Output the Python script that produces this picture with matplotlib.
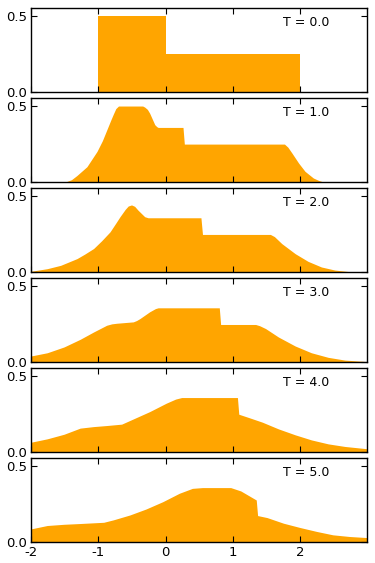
import matplotlib
matplotlib.use("Agg")
import matplotlib.pyplot as plt

# values, one profile per time step
times = [0.0, 1.0, 2.0, 3.0, 4.0, 5.0]

x_t0 = [-1.0, -1.0, 0.0, 0.0, 2.0, 2.0]
y_t0 = [0.0, 0.5, 0.5, 0.25, 0.25, 0.0]

x_t1 = [-1.49, -1.40, -1.32, -1.17, -1.02, -0.94, -0.875, -0.81, -0.776, -0.74,
        -0.70, -0.34, -0.31, -0.27, -0.236, -0.16, -0.13, -0.11, 0.26, 0.28,
        1.77, 1.82, 1.88, 1.98, 2.075, 2.2, 2.28, 2.35]
y_t1 = [0.0, 0.015, 0.042, 0.10, 0.20, 0.27, 0.34, 0.41, 0.445, 0.48,
        0.497, 0.497, 0.49, 0.475, 0.45, 0.375, 0.362, 0.357, 0.357, 0.248,
        0.248, 0.228, 0.19, 0.124, 0.07, 0.026, 0.01, 0.0]

x_t2 = [-2.0, -1.76, -1.56, -1.317, -1.2, -1.07, -0.95, -0.826, -0.74, -0.678,
        -0.6, -0.555, -0.506, -0.46, -0.41, -0.31, -0.26, 0.527, 0.55, 1.56,
        1.62, 1.73, 1.93, 2.12, 2.32, 2.52, 2.79]
y_t2 = [0.005, 0.022, 0.044, 0.088, 0.118, 0.154, 0.205, 0.263, 0.32, 0.362,
        0.41, 0.432, 0.439, 0.43, 0.405, 0.362, 0.355, 0.355, 0.246, 0.246,
        0.232, 0.186, 0.12, 0.07, 0.033, 0.013, 0.0]

x_t3 = [-2.0, -1.76, -1.51, -1.27, -1.07, -0.875, -0.8, -0.727, -0.48, -0.43,
        -0.38, -0.236, -0.15, -0.11, 0.80, 0.82, 1.34, 1.40, 1.49, 1.68, 1.93,
        2.17, 2.42, 2.67, 3.0]
y_t3 = [0.04, 0.061, 0.099, 0.149, 0.197, 0.241, 0.25, 0.254, 0.263, 0.272,
        0.285, 0.329, 0.35, 0.355, 0.355, 0.246, 0.246, 0.238, 0.219, 0.164, 0.105,
        0.061, 0.031, 0.013, 0.003]

x_t4 = [-2.0, -1.76, -1.51, -1.27, -1.07, -0.875, -0.653, -0.48, -0.236, 0.01,
        0.15, 0.24, 1.07, 1.09, 1.24, 1.44, 1.68, 1.93, 2.17, 2.42, 2.67, 3.0]
y_t4 = [0.065, 0.087, 0.117, 0.157, 0.167, 0.174, 0.183, 0.217, 0.265, 0.32,
        0.347, 0.357, 0.357, 0.248, 0.226, 0.196, 0.152, 0.113, 0.08, 0.054, 0.037, 0.022]

x_t5 = [-2.0, -1.76, -1.51, -1.27, -0.92, -0.776, -0.53, -0.29, -0.04, 0.206,
        0.40, 0.55, 0.97, 1.12, 1.35, 1.37, 1.51, 1.755, 2.0, 2.25, 2.49, 2.74, 3.0]
y_t5 = [0.087, 0.109, 0.117, 0.122, 0.13, 0.146, 0.178, 0.217, 0.265, 0.32,
        0.352, 0.357, 0.357, 0.335, 0.276, 0.174, 0.161, 0.124, 0.096, 0.07, 0.048, 0.037, 0.03]

profiles = [(x_t0, y_t0), (x_t1, y_t1), (x_t2, y_t2),
            (x_t3, y_t3), (x_t4, y_t4), (x_t5, y_t5)]

fig, axes = plt.subplots(6, 1, sharex=True, figsize=(3.75, 5.63), dpi=100)
fig.subplots_adjust(left=0.083, right=0.979, top=0.986, bottom=0.037, hspace=0.071)

for ax, t, (xs, ys) in zip(axes, times, profiles):
    ax.fill_between(xs, ys, 0, color="orange", linewidth=0)
    ax.set_xlim(-2, 3)
    ax.set_ylim(0, 0.55)
    ax.set_yticks([0.0, 0.5])
    ax.set_yticklabels(["0.0", "0.5"])
    ax.tick_params(direction="in", length=4, top=True, right=True,
                   labelsize=9.5, pad=3)
    for sp in ax.spines.values():
        sp.set_linewidth(1.0)
    ax.text(0.75, 0.83, "T = %.1f" % t, transform=ax.transAxes,
            va="center", ha="left", fontsize=9)

axes[-1].set_xticks([-2, -1, 0, 1, 2])
axes[-1].set_xticklabels(["-2", "-1", "0", "1", "2"])

fig.savefig("out.png", dpi=100)
